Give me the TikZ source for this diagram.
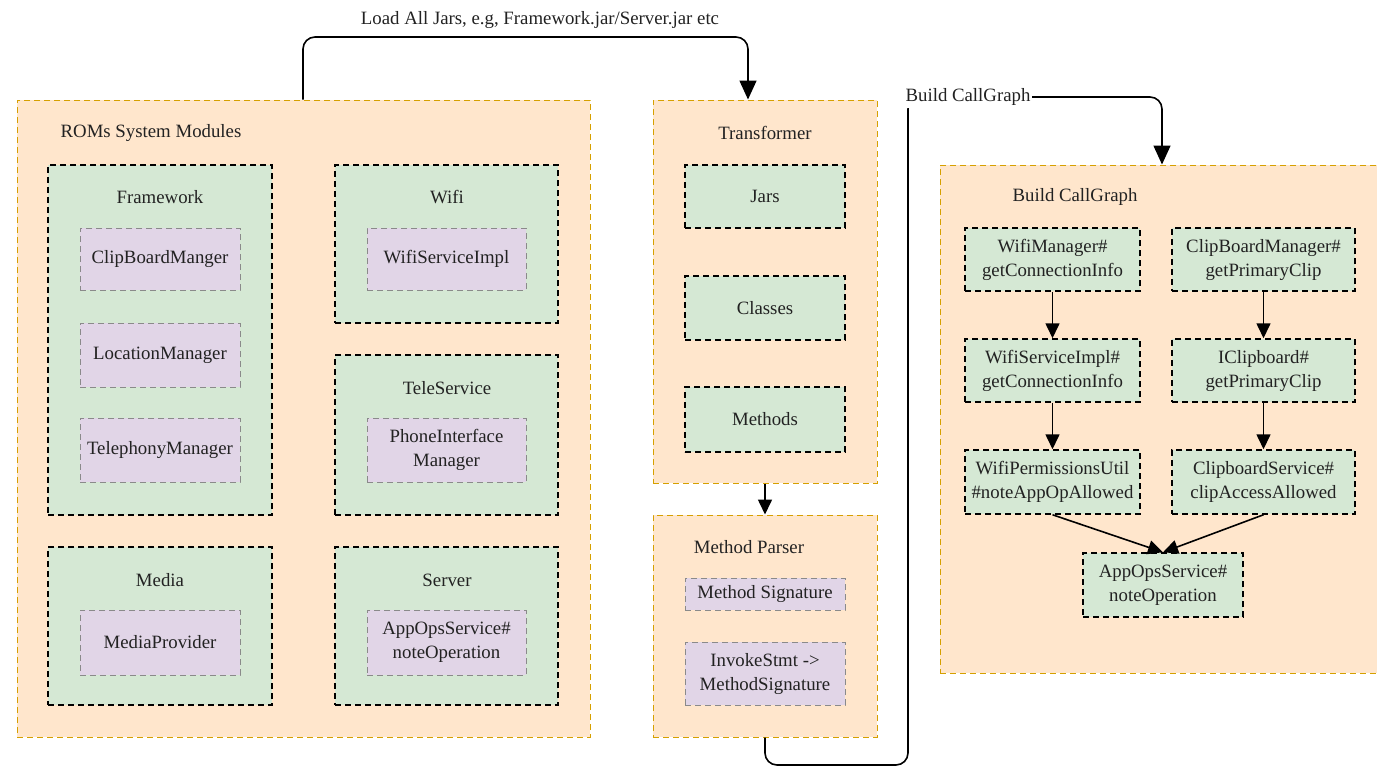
\documentclass[tikz,border=0pt]{standalone}
\usepackage{fontspec}
\setmainfont{Liberation Serif}
\usetikzlibrary{fit,arrows.meta}
\definecolor{peach}{HTML}{FFE6CC}
\definecolor{peachline}{HTML}{D6A000}
\definecolor{greenf}{HTML}{D5E8D4}
\definecolor{purplef}{HTML}{E1D5E7}
\definecolor{purpline}{HTML}{8A8A8A}
\definecolor{txt}{HTML}{222222}
\newcommand{\bx}[4]{%
  \node[#1={#3}] (#2) {};
  \node[align=center, inner sep=0pt] (#2-t) at (#2.center) {#4};}
\begin{document}
\begin{tikzpicture}[x=0.5pt,y=-0.5pt,
 every node/.style={font=\fontsize{9.4}{12}\selectfont, text=txt},
 box/.style={fit={#1}, inner sep=0pt, dash pattern=on 3pt off 2pt},
 outerbox/.style={box={#1}, fill=peach, draw=peachline, line width=0.5pt},
 greenbox/.style={box={#1}, fill=greenf, draw=black, line width=0.75pt},
 purplebox/.style={box={#1}, fill=purplef, draw=purpline, line width=0.5pt},
 conn/.style={draw=black, line width=0.8pt, -{Triangle[width=7pt,length=7.5pt]}},
 bigconn/.style={draw=black, line width=0.8pt, rounded corners=6pt, -{Triangle[width=8.5pt,length=9.5pt]}},
 title/.style={inner sep=1pt},
]
\fill[white] (0,0) rectangle (1377,767);
\clip (0,0) rectangle (1377,767);

% ROMs System Modules
\node[outerbox={(17,100) (590,737)}] (roms) {};
\node[title] (romsT) at (151,133) {ROMs System Modules};

\node[greenbox={(48,165) (272,515)}] (fw) {};
\node[title] (fwT) at (160,197) {Framework};
\bx{purplebox}{cbm}{(80,228) (240,290)}{ClipBoardManger}
\bx{purplebox}{lm}{(80,323) (240,387)}{LocationManager}
\bx{purplebox}{tm}{(80,418) (240,482)}{TelephonyManager}

\node[greenbox={(335,165) (558,323)}] (wifi) {};
\node[title] (wifiT) at (447,197) {Wifi};
\bx{purplebox}{wsimpl}{(367,228) (526,290)}{WifiServiceImpl}

\node[greenbox={(335,355) (558,515)}] (tele) {};
\node[title] (teleT) at (447,388) {TeleService};
\bx{purplebox}{pim}{(367,418) (526,482)}{PhoneInterface\\Manager}

\node[greenbox={(48,547) (272,705)}] (media) {};
\node[title] (mediaT) at (160,580) {Media};
\bx{purplebox}{mprov}{(80,610) (240,675)}{MediaProvider}

\node[greenbox={(335,547) (558,705)}] (server) {};
\node[title] (serverT) at (447,580) {Server};
\bx{purplebox}{aosS}{(367,610) (526,675)}{AppOpsService\#\\noteOperation}

% Transformer
\node[outerbox={(653,100) (877,483)}] (trans) {};
\node[title] (transT) at (765,133) {Transformer};
\bx{greenbox}{jars}{(685,165) (845,228)}{Jars}
\bx{greenbox}{classes}{(685,276) (845,340)}{Classes}
\bx{greenbox}{methods}{(685,387) (845,452)}{Methods}

% Method Parser
\node[outerbox={(653,515) (877,737)}] (mp) {};
\node[title] (mpT) at (749,547) {Method Parser};
\bx{purplebox}{msig}{(685,578) (845,610)}{Method Signature}
\bx{purplebox}{inv}{(685,642) (845,705)}{InvokeStmt ->\\MethodSignature}

% Build CallGraph
\node[outerbox={(940,165) (1384,673)}] (bc) {};
\node[title] (bcT) at (1075,197) {Build CallGraph};
\bx{greenbox}{wm}{(965,228) (1140,291)}{WifiManager\#\\getConnectionInfo}
\bx{greenbox}{cbmg}{(1172,228) (1355,291)}{ClipBoardManager\#\\getPrimaryClip}
\bx{greenbox}{wsi}{(965,339) (1140,402)}{WifiServiceImpl\#\\getConnectionInfo}
\bx{greenbox}{icb}{(1172,339) (1355,402)}{IClipboard\#\\getPrimaryClip}
\bx{greenbox}{wpu}{(965,450) (1140,514)}{WifiPermissionsUtil\\\#noteAppOpAllowed}
\bx{greenbox}{cbs}{(1172,450) (1355,514)}{ClipboardService\#\\clipAccessAllowed}
\bx{greenbox}{aos}{(1083,553) (1243,617)}{AppOpsService\#\\noteOperation}

\draw[conn] (wm.south) -- (wsi.north);
\draw[conn] (wsi.south) -- (wpu.north);
\draw[conn] (cbmg.south) -- (icb.north);
\draw[conn] (icb.south) -- (cbs.north);
\draw[conn] (wpu.south) -- (aos.north);
\draw[conn] (cbs.south) -- (aos.north);

\draw[conn] (trans.south) -- (mp.north);

% Load all jars connector
\coordinate (c1) at (303,37);
\coordinate (c2) at (748,37);
\draw[bigconn] (c1 |- roms.north) -- (c1) -- (c2) -- (c2 |- trans.north);
\node[title] (loadL) at (540,20) {Load All Jars, e.g, Framework.jar/Server.jar etc};

% Build CallGraph connector
\coordinate (d1) at (766,765);
\coordinate (d2) at (908,765);
\coordinate (d3) at (908,97);
\draw[bigconn] (mp.south) -- (mp.south |- d1) -- (d2) -- (d3) -- (bc.north |- d3) -- (bc.north);
\node[fill=white, inner sep=1pt] (bcL) at (968,97) {Build CallGraph};
\end{tikzpicture}
\end{document}
